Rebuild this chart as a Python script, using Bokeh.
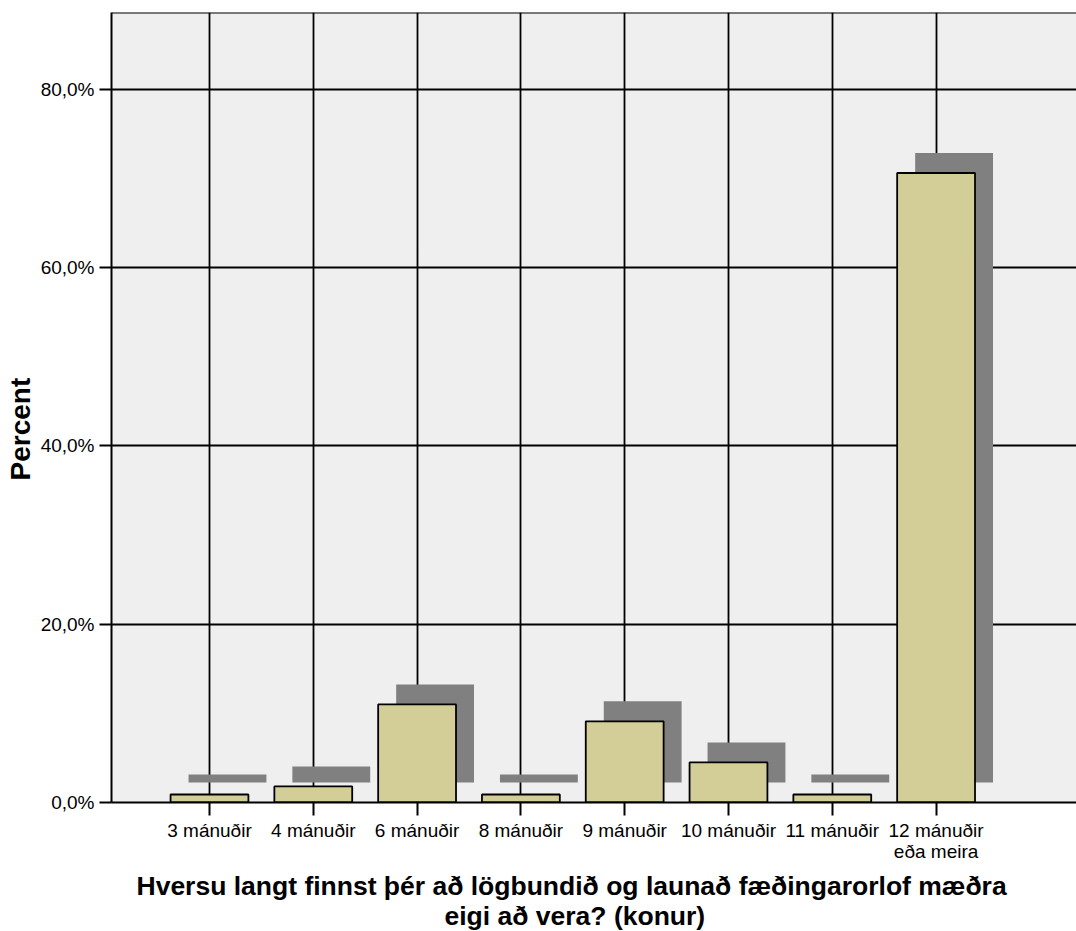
from bokeh.plotting import figure
from bokeh.models import Range1d, FixedTicker, Span, Title
from bokeh.embed import file_html
from bokeh.resources import INLINE

# ---- data ----
categories = ["3 mánuðir", "4 mánuðir", "6 mánuðir", "8 mánuðir", "9 mánuðir",
              "10 mánuðir", "11 mánuðir", "12 mánuðir\neða meira"]
percent = [0.9, 1.8, 11.0, 0.9, 9.1, 4.5, 0.9, 70.6]
y_ticks = [0, 20, 40, 60, 80]
y_tick_labels = ["0,0%", "20,0%", "40,0%", "60,0%", "80,0%"]
x_title_lines = ["Hversu langt finnst þér að lögbundið og launað fæðingarorlof mæðra",
                 "eigi að vera? (konur)"]
y_title = "Percent"

# ---- layout ----
W, H = 1076, 931
BL, BT, BB, BR = 111, 12, 129, 0
frame_w = W - BL - BR
frame_h = H - BT - BB
x0 = 0.056
x1 = x0 + frame_w / 103.8
y0, y1 = 0.0, 88.6
px_x = frame_w / (x1 - x0)   # pixels per x unit
px_y = frame_h / (y1 - y0)   # pixels per y unit
bar_w = 0.75
# shadow offset: 18 px right, 20 px up (converted into data units)
sdx = 18 / px_x
sdy = 20 / px_y

xs = [i + 1 for i in range(len(categories))]

p = figure(width=W, height=H, output_backend="svg", toolbar_location=None,
           x_range=Range1d(x0, x1), y_range=Range1d(y0, y1),
           min_border_left=BL, min_border_top=BT, min_border_bottom=BB,
           min_border_right=BR)
p.background_fill_color = "#EFEFEF"
p.border_fill_color = "white"
p.outline_line_color = None

# shadows
p.quad(left=[x - bar_w / 2 + sdx for x in xs], right=[x + bar_w / 2 + sdx for x in xs],
       bottom=[sdy] * len(xs), top=[v + sdy for v in percent],
       fill_color="#808080", line_color=None)
# bars
p.quad(left=[x - bar_w / 2 for x in xs], right=[x + bar_w / 2 for x in xs],
       bottom=[0] * len(xs), top=percent,
       fill_color="#D3CE97", line_color="black", line_width=1.8)

# top frame line
p.add_layout(Span(location=y1, dimension="width", line_color="black", line_width=2))

# axes
p.xaxis.ticker = FixedTicker(ticks=xs)
p.xaxis.major_label_overrides = {x: c for x, c in zip(xs, categories)}
p.yaxis.ticker = FixedTicker(ticks=y_ticks)
p.yaxis.major_label_overrides = {t: l for t, l in zip(y_ticks, y_tick_labels)}

for ax in (p.xaxis[0], p.yaxis[0]):
    ax.axis_line_color = "black"
    ax.axis_line_width = 2
    ax.major_tick_line_color = "black"
    ax.major_tick_line_width = 2
    ax.major_tick_in = 0
    ax.minor_tick_line_color = None
    ax.major_label_text_font = "Liberation Sans"
    ax.major_label_text_font_size = "19px"
    ax.major_label_text_color = "black"

p.xaxis.major_tick_out = 13
p.xaxis.major_label_standoff = 4
p.xaxis.major_label_text_line_height = 1.0

p.yaxis.major_tick_out = 12
p.yaxis.major_label_standoff = 5

# y-axis title as a title panel on the left (starts 322 px above the frame bottom)
p.add_layout(Title(text=y_title, align="left", offset=322,
                   text_font="Liberation Sans", text_font_style="bold",
                   text_font_size="28px", text_color="black",
                   standoff=4), "left")

# x-axis title: one title panel per line, below the axis
title_offsets = [25, 333]     # px from the frame's left edge
title_standoffs = [8, -11]
for line, off, so in zip(x_title_lines, title_offsets, title_standoffs):
    p.add_layout(Title(text=line, align="left", offset=off,
                       text_font="Liberation Sans", text_font_style="bold",
                       text_font_size="26.5px", text_color="black",
                       standoff=so), "below")

p.xgrid.ticker = FixedTicker(ticks=xs)
p.xgrid.grid_line_color = "black"
p.xgrid.grid_line_width = 1.8
p.ygrid.ticker = FixedTicker(ticks=y_ticks)
p.ygrid.grid_line_color = "black"
p.ygrid.grid_line_width = 1.8

open("out.html", "w").write(file_html(p, INLINE))
